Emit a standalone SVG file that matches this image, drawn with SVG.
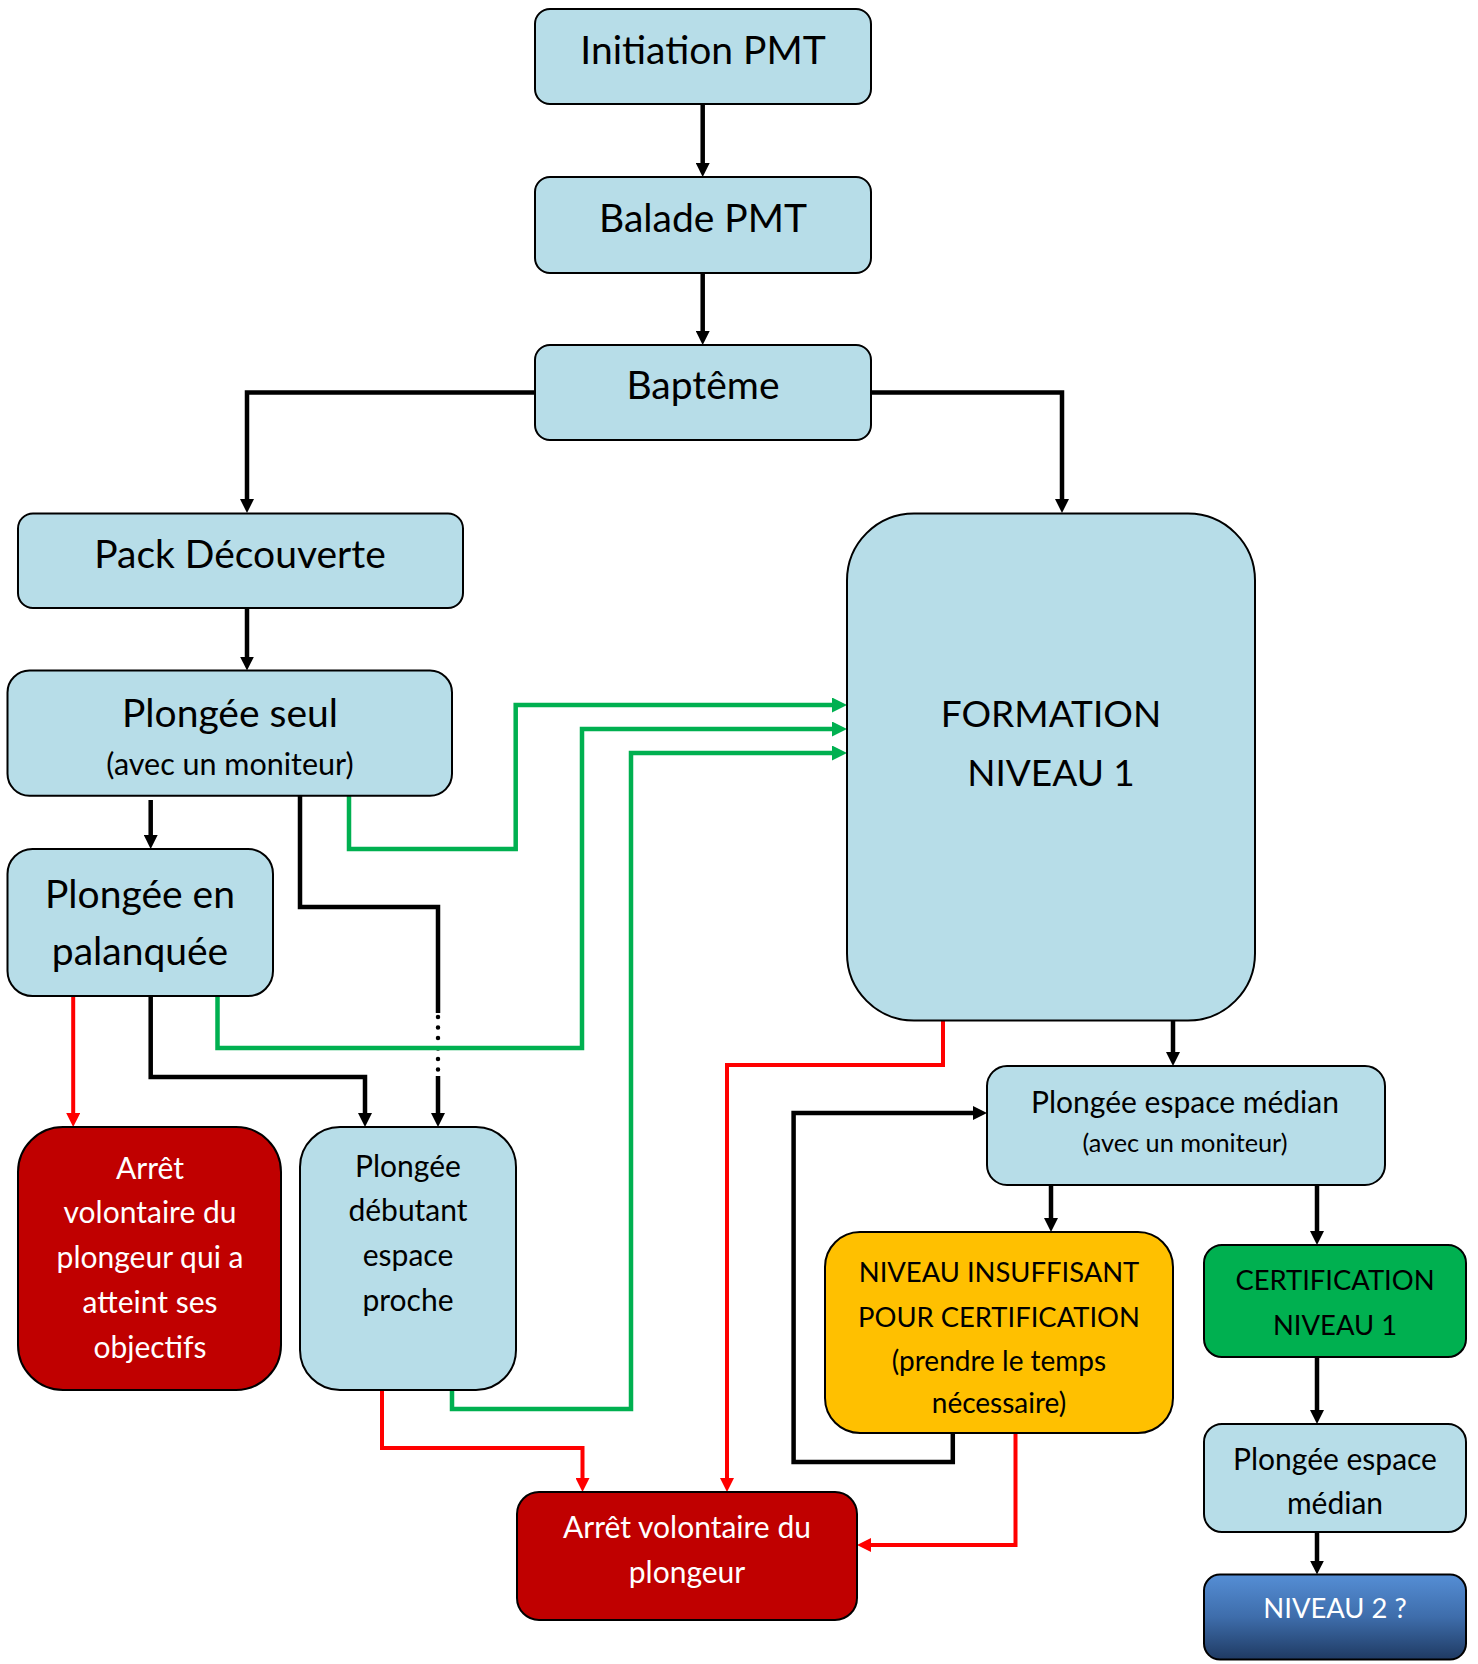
<svg xmlns="http://www.w3.org/2000/svg" width="1478" height="1664" viewBox="0 0 1478 1664">
<defs>
<style>
.box{stroke:#000;stroke-width:2}
.blue{fill:#B7DDE8}
.dred{fill:#C00000}
.yel{fill:#FFC000}
.grn{fill:#00B050}
text{font-family:Lato,"Liberation Sans",sans-serif;text-anchor:middle;fill:#000}
.big{font-size:39px}
.bigc{font-size:37px}
.mid{font-size:30px}
.caps{font-size:27.4px}
.sub{font-size:25.3px}
.sub2{font-size:28px}
.sub3{font-size:30.5px}
.w{fill:#fff}
.bk{stroke:#000;stroke-width:4.5;fill:none}
.gr{stroke:#00B050;stroke-width:4.5;fill:none}
.rd{stroke:#FF0000;stroke-width:4;fill:none}
.dot{stroke:#000;stroke-width:4.5;fill:none;stroke-linecap:round;stroke-dasharray:0 10.5}
</style>
<marker id="ab" viewBox="0 0 14 14" markerWidth="14" markerHeight="14" refX="4" refY="7" orient="auto" markerUnits="userSpaceOnUse"><path d="M0,0 L14,7 L0,14 z" fill="#000"/></marker>
<marker id="ag" viewBox="0 0 15 15" markerWidth="15" markerHeight="15" refX="5" refY="7.5" orient="auto" markerUnits="userSpaceOnUse"><path d="M0,0 L15,7.5 L0,15 z" fill="#00B050"/></marker>
<marker id="ar" viewBox="0 0 14 14" markerWidth="14" markerHeight="14" refX="4" refY="7" orient="auto" markerUnits="userSpaceOnUse"><path d="M0,0 L14,7 L0,14 z" fill="#FF0000"/></marker>
<linearGradient id="navy" x1="0" y1="0" x2="0" y2="1">
<stop offset="0" stop-color="#558ED5"/>
<stop offset="0.5" stop-color="#3E6DAB"/>
<stop offset="1" stop-color="#1F3A62"/>
</linearGradient>
</defs>
<rect width="1478" height="1664" fill="#fff"/>

<g id="connectors">
<path class="bk" d="M702.7,104 V167" marker-end="url(#ab)"/>
<path class="bk" d="M702.7,273 V335" marker-end="url(#ab)"/>
<path class="bk" d="M535,392.6 H247 V503" marker-end="url(#ab)"/>
<path class="bk" d="M871,392.6 H1062 V503" marker-end="url(#ab)"/>
<path class="bk" d="M247,608 V660.6" marker-end="url(#ab)"/>
<path class="bk" d="M150.7,800 V839" marker-end="url(#ab)"/>
<path class="bk" d="M300,796 V907 H438 V1013"/>
<path class="dot" d="M438,1017 V1070"/>
<path class="bk" d="M438,1076 V1117" marker-end="url(#ab)"/>
<path class="bk" d="M150.7,996 V1077 H365 V1117" marker-end="url(#ab)"/>
<path class="rd" d="M73.2,996 V1117" marker-end="url(#ar)"/>
<path class="gr" d="M349,796 V849 H515.7 V705 H837" marker-end="url(#ag)"/>
<path class="gr" d="M217.5,996 V1048 H582 V729 H837" marker-end="url(#ag)"/>
<path class="gr" d="M452,1390 V1409 H631 V753 H837" marker-end="url(#ag)"/>
<path class="rd" d="M382,1390 V1448 H582.5 V1482" marker-end="url(#ar)"/>
<path class="rd" d="M943,1021 V1065 H727 V1482" marker-end="url(#ar)"/>
<path class="bk" d="M1173,1021 V1056" marker-end="url(#ab)"/>
<path class="bk" d="M1051,1185 V1222" marker-end="url(#ab)"/>
<path class="bk" d="M1317,1185 V1235" marker-end="url(#ab)"/>
<path class="bk" d="M952.8,1433 V1462 H793.6 V1113 H977" marker-end="url(#ab)"/>
<path class="rd" d="M1015.5,1433 V1545 H867" marker-end="url(#ar)"/>
<path class="bk" d="M1317,1357 V1414" marker-end="url(#ab)"/>
<path class="bk" d="M1317,1532 V1564.6" marker-end="url(#ab)"/>
</g>

<g id="initiation">
<rect class="box blue" x="535" y="9" width="336" height="95" rx="15"/>
<text class="big" x="703" y="64">Initiation PMT</text>
</g>
<g id="balade">
<rect class="box blue" x="535" y="177" width="336" height="96" rx="15"/>
<text class="big" x="703" y="232">Balade PMT</text>
</g>
<g id="bapteme">
<rect class="box blue" x="535" y="345" width="336" height="95" rx="15"/>
<text class="big" x="703" y="399">Baptême</text>
</g>
<g id="pack">
<rect class="box blue" x="18" y="513.5" width="445" height="94.5" rx="15"/>
<text class="big" x="240" y="568">Pack Découverte</text>
</g>
<g id="seul">
<rect class="box blue" x="7.5" y="670.6" width="444.5" height="125.2" rx="22"/>
<text class="big" x="230" y="727">Plongée seul</text>
<text class="sub3" x="230" y="775">(avec un moniteur)</text>
</g>
<g id="palanquee">
<rect class="box blue" x="7.5" y="849" width="265.5" height="147" rx="25"/>
<text class="big" x="140" y="908">Plongée en</text>
<text class="big" x="140" y="965">palanquée</text>
</g>
<g id="formation">
<rect class="box blue" x="847" y="513.5" width="408" height="507" rx="67"/>
<text class="bigc" x="1051" y="727">FORMATION</text>
<text class="bigc" x="1051" y="786">NIVEAU 1</text>
</g>
<g id="arret-objectifs">
<rect class="box dred" x="18" y="1127" width="263" height="263" rx="45"/>
<text class="mid w" x="150" y="1179">Arrêt</text>
<text class="mid w" x="150" y="1223">volontaire du</text>
<text class="mid w" x="150" y="1268">plongeur qui a</text>
<text class="mid w" x="150" y="1313">atteint ses</text>
<text class="mid w" x="150" y="1358">objectifs</text>
</g>
<g id="debutant">
<rect class="box blue" x="300" y="1127" width="216" height="263" rx="40"/>
<text class="mid" x="408" y="1177">Plongée</text>
<text class="mid" x="408" y="1221">débutant</text>
<text class="mid" x="408" y="1266">espace</text>
<text class="mid" x="408" y="1311">proche</text>
</g>
<g id="median">
<rect class="box blue" x="987" y="1066" width="398" height="119" rx="20"/>
<text class="mid" x="1185" y="1113">Plongée espace médian</text>
<text class="sub" x="1185" y="1152">(avec un moniteur)</text>
</g>
<g id="insuffisant">
<rect class="box yel" x="825" y="1232" width="348" height="201" rx="35"/>
<text class="caps" x="999" y="1282">NIVEAU INSUFFISANT</text>
<text class="caps" x="999" y="1327">POUR CERTIFICATION</text>
<text class="sub2" x="999" y="1371">(prendre le temps</text>
<text class="sub2" x="999" y="1413">nécessaire)</text>
</g>
<g id="certification">
<rect class="box grn" x="1204" y="1245" width="262" height="112" rx="18"/>
<text class="caps" x="1335" y="1290">CERTIFICATION</text>
<text class="caps" x="1335" y="1335">NIVEAU 1</text>
</g>
<g id="median2">
<rect class="box blue" x="1204" y="1424" width="262" height="108" rx="18"/>
<text class="mid" x="1335" y="1470">Plongée espace</text>
<text class="mid" x="1335" y="1514">médian</text>
</g>
<g id="niveau2">
<rect class="box" fill="url(#navy)" x="1204" y="1574.6" width="262" height="85" rx="16"/>
<text class="caps w" x="1335" y="1618">NIVEAU 2 ?</text>
</g>
<g id="arret-plongeur">
<rect class="box dred" x="517" y="1492" width="340" height="128" rx="22"/>
<text class="mid w" x="687" y="1538">Arrêt volontaire du</text>
<text class="mid w" x="687" y="1583">plongeur</text>
</g>
</svg>
